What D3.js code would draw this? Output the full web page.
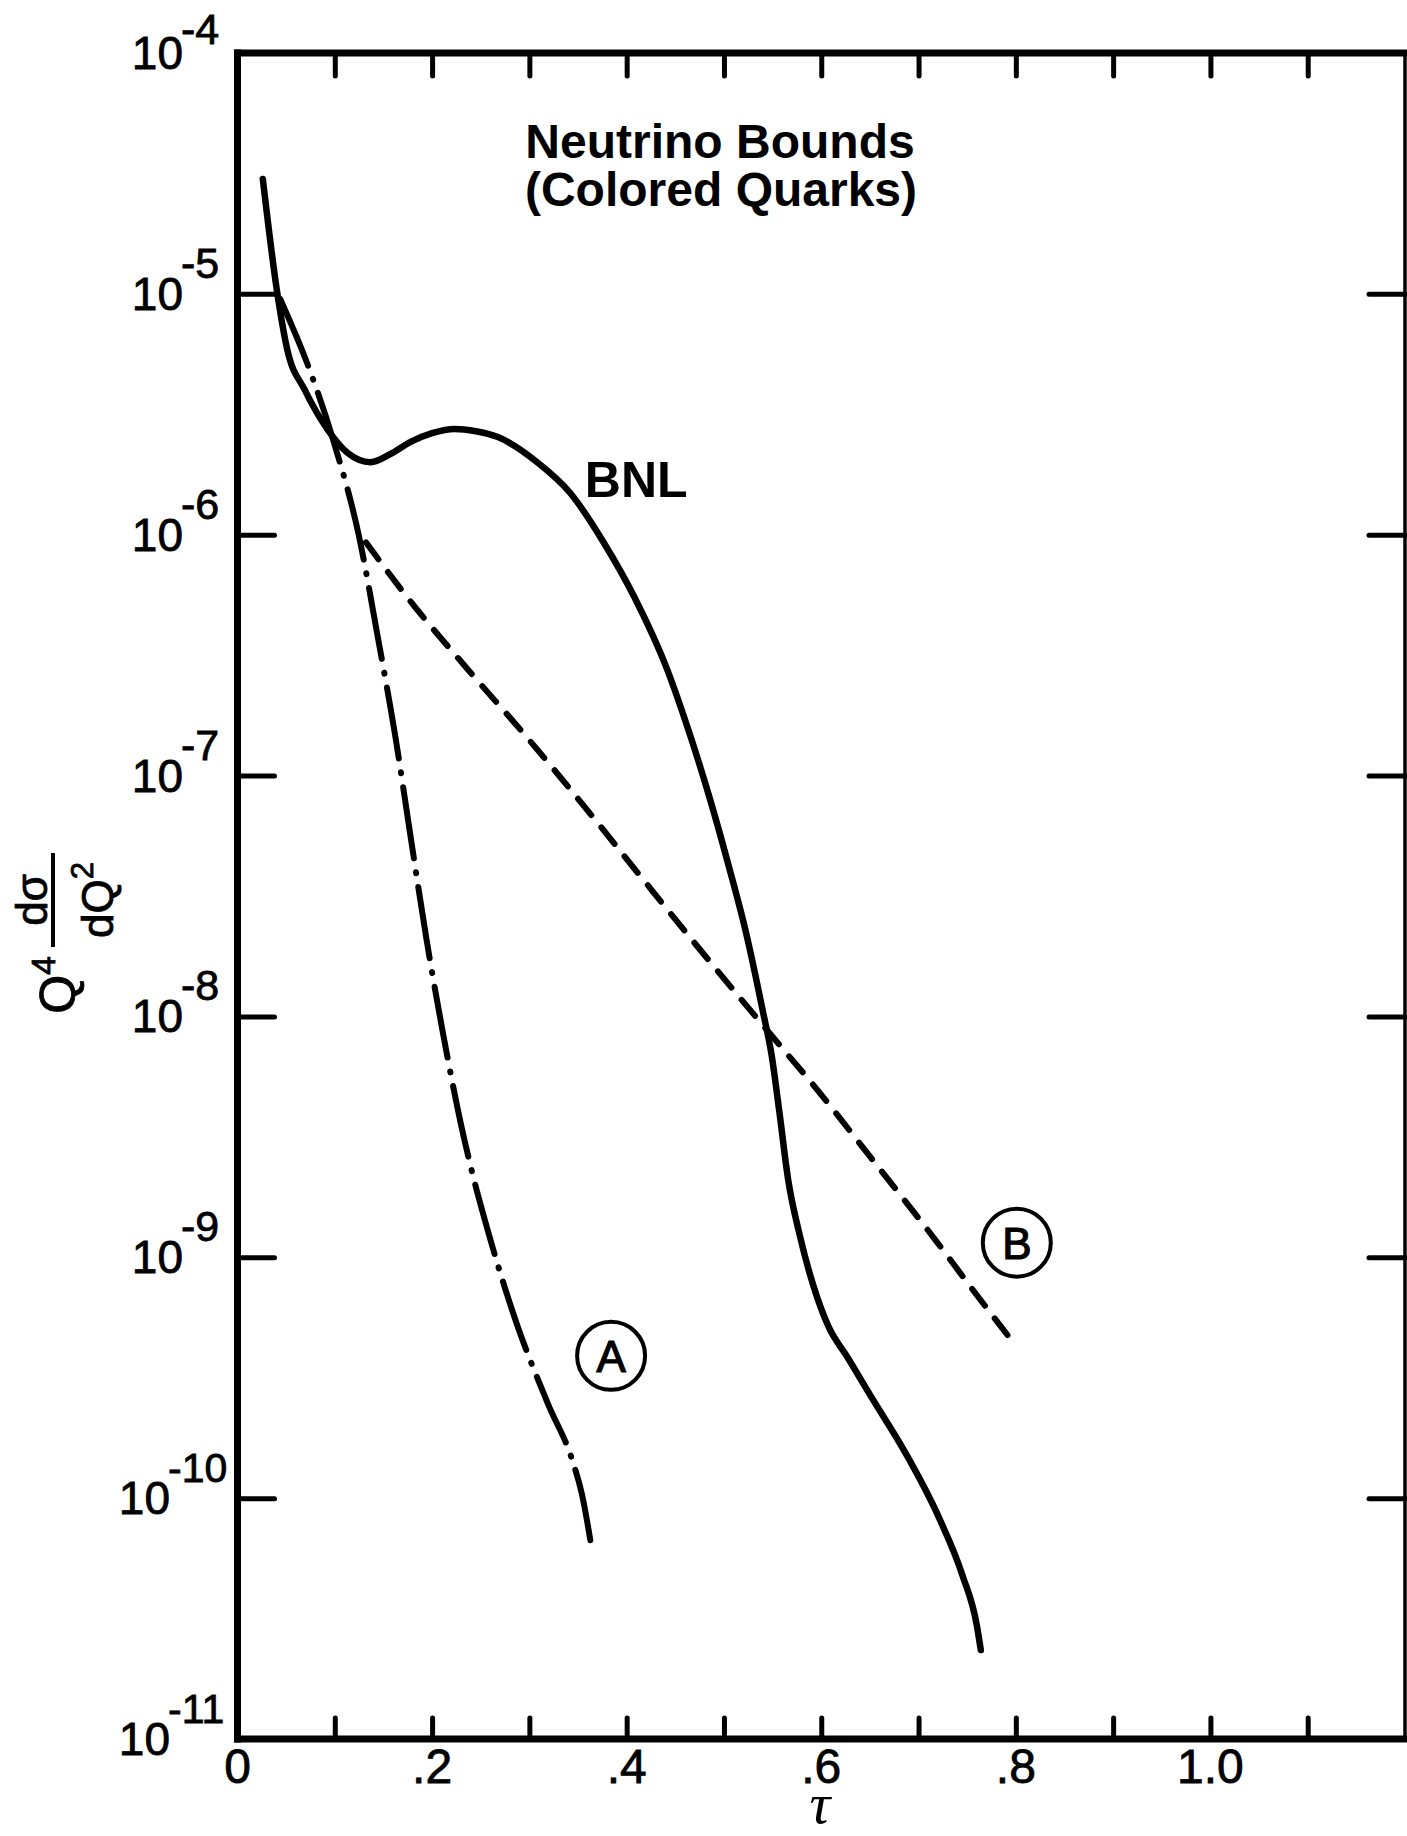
<!DOCTYPE html>
<html>
<head>
<meta charset="utf-8">
<script src="https://cdn.jsdelivr.net/npm/d3@7"></script>
<style>
  body { margin: 0; background: #fff; }
  svg { display: block; font-family: "Liberation Sans", Arial, sans-serif; }
</style>
</head>
<body>
<svg width="1407" height="1836"></svg>
<script>
// values: tau and Q^4 dsigma/dQ^2
const bnlTau = [0.026, 0.041, 0.051, 0.069, 0.093, 0.113, 0.137, 0.157, 0.178, 0.200, 0.223, 0.245,
                0.267, 0.308, 0.342, 0.377, 0.408, 0.441, 0.465, 0.486, 0.505, 0.523, 0.540, 0.549,
                0.557, 0.566, 0.578, 0.592, 0.608, 0.626, 0.653, 0.685, 0.721, 0.745, 0.760, 0.764];
const bnlVal = [3.0e-5, 1.0e-5, 5.9e-6, 4.0e-6, 2.72e-6, 2.19e-6, 2.0e-6, 2.16e-6, 2.43e-6, 2.64e-6, 2.75e-6, 2.69e-6,
                2.55e-6, 2.0e-6, 1.49e-6, 9.2e-7, 5.5e-7, 2.8e-7, 1.48e-7, 7.9e-8, 4.2e-8, 2.2e-8, 1.05e-8, 6.9e-9,
                4.0e-9, 2.1e-9, 1.23e-9, 7.6e-10, 5.1e-10, 3.9e-10, 2.57e-10, 1.58e-10, 8.3e-11, 4.8e-11, 2.95e-11, 2.34e-11];

// curve A (dash-dot)
const aTau = [0.044, 0.072, 0.098, 0.125, 0.144, 0.163, 0.177, 0.194, 0.211, 0.233, 0.259, 0.287, 0.319, 0.345, 0.354, 0.364];
const aVal = [9.5e-6, 5.1e-6, 2.5e-6, 9.8e-7, 3.8e-7, 1.39e-7, 5.9e-8, 2.12e-8, 8.6e-9, 3.1e-9, 1.22e-9, 5.3e-10, 2.47e-10, 1.40e-10, 1.04e-10, 6.2e-11];

// curve B (dashed)
const bTau = [0.132, 0.176, 0.237, 0.297, 0.357, 0.417, 0.477, 0.545, 0.597, 0.646, 0.718, 0.755, 0.796];
const bVal = [9.3e-7, 5.4e-7, 2.75e-7, 1.45e-7, 7.4e-8, 3.7e-8, 1.86e-8, 8.7e-9, 4.9e-9, 2.75e-9, 1.17e-9, 7.4e-10, 4.5e-10];

// axes
const xLabelValues = [0, 0.2, 0.4, 0.6, 0.8, 1.0];
const xTickLabels = ["0", ".2", ".4", ".6", ".8", "1.0"];
const xTickValues = [0.1, 0.2, 0.3, 0.4, 0.5, 0.6, 0.7, 0.8, 0.9, 1.0, 1.1];
const yTickValues = [1e-4, 1e-5, 1e-6, 1e-7, 1e-8, 1e-9, 1e-10, 1e-11];
const yTickExponents = ["-4", "-5", "-6", "-7", "-8", "-9", "-10", "-11"];

// curve labels
const circleNames = ["A", "B"];
const circleTau = [0.384, 0.801];
const circleVal = [3.9e-10, 1.15e-9];

const svg = d3.select("svg");

const plotLeft = 237.5, plotRight = 1405, plotTop = 53, plotBottom = 1739;
const x = d3.scaleLinear().domain([0, 1.2]).range([plotLeft, plotRight]);
const y = d3.scaleLog().domain([1e-11, 1e-4]).range([plotBottom, plotTop]);

// tick marks (labels drawn separately)
function ticks(g) {
    g.select(".domain").remove();
    g.selectAll(".tick line").attr("stroke", "#000").attr("stroke-width", 5).attr("stroke-linecap", "round");
}
svg.append("g").attr("transform", `translate(${plotLeft},0)`)
    .call(d3.axisRight(y).tickValues(yTickValues).tickSize(37).tickFormat(""))
    .call(ticks);
svg.append("g").attr("transform", `translate(${plotRight},0)`)
    .call(d3.axisLeft(y).tickValues(yTickValues).tickSize(36).tickFormat(""))
    .call(ticks);
svg.append("g").attr("transform", `translate(0,${plotTop})`)
    .call(d3.axisBottom(x).tickValues(xTickValues).tickSize(23).tickFormat(""))
    .call(ticks);
svg.append("g").attr("transform", `translate(0,${plotBottom})`)
    .call(d3.axisTop(x).tickValues(xTickValues).tickSize(21).tickFormat(""))
    .call(ticks);

// frame
const frame = svg.append("g").attr("stroke", "#000").attr("stroke-linecap", "square");
frame.append("line").attr("x1", plotLeft).attr("x2", plotLeft).attr("y1", plotTop).attr("y2", plotBottom).attr("stroke-width", 7);
frame.append("line").attr("x1", plotLeft).attr("x2", plotRight).attr("y1", plotTop).attr("y2", plotTop).attr("stroke-width", 7);
frame.append("line").attr("x1", plotLeft).attr("x2", plotRight).attr("y1", plotBottom).attr("y2", plotBottom).attr("stroke-width", 7);
frame.append("line").attr("x1", plotRight).attr("x2", plotRight).attr("y1", plotTop).attr("y2", plotBottom).attr("stroke-width", 3.5);

// y tick labels: 10 with exponent (two digit exponents sit further left)
const ylab = svg.append("g").attr("stroke", "#000").attr("stroke-width", 0.8)
    .selectAll("g").data(yTickValues).enter().append("g");
ylab.append("text")
    .attr("x", (d, i) => yTickExponents[i].length > 2 ? 170 : 183)
    .attr("y", d => y(d) + 16)
    .attr("text-anchor", "end")
    .style("font-size", "46px")
    .text("10");
ylab.append("text")
    .attr("x", (d, i) => yTickExponents[i].length > 2 ? 168 : 181)
    .attr("y", d => Math.max(y(d) - 16, 44))
    .style("font-size", (d, i) => yTickExponents[i].length > 2 ? "41px" : "43px")
    .text((d, i) => yTickExponents[i]);

// x tick labels
svg.append("g").attr("stroke", "#000").attr("stroke-width", 0.8)
    .selectAll("text").data(xLabelValues).enter().append("text")
    .attr("x", d => x(d)).attr("y", 1783)
    .attr("text-anchor", "middle")
    .style("font-size", "48px")
    .text((d, i) => xTickLabels[i]);

// x axis title
svg.append("text")
    .attr("x", 820).attr("y", 1823)
    .attr("text-anchor", "middle")
    .style("font-family", "'Liberation Serif', serif")
    .style("font-style", "italic")
    .style("font-size", "58px")
    .text("τ");

// y axis title, rotated
const yt = svg.append("g").attr("transform", "translate(53,900) rotate(-90)")
    .attr("stroke", "#000").attr("stroke-width", 0.8);
yt.append("line").attr("x1", -47).attr("x2", 47).attr("y1", 0).attr("y2", 0)
    .attr("stroke", "#000").attr("stroke-width", 4);
yt.append("text").attr("x", 0).attr("y", -6).attr("text-anchor", "middle")
    .style("font-size", "44px").text("dσ");
const den = yt.append("text").attr("x", 0).attr("y", 60).attr("text-anchor", "middle")
    .style("font-size", "44px").text("dQ");
den.append("tspan").attr("dy", -20).style("font-size", "31px").text("2");
const q4 = yt.append("text").attr("x", -56).attr("y", 22).attr("text-anchor", "end")
    .style("font-size", "50px").text("Q");
q4.append("tspan").attr("dy", -20).style("font-size", "34px").text("4");

// title
svg.append("text").attr("x", 720).attr("y", 158).attr("text-anchor", "middle")
    .style("font-size", "48px").style("font-weight", "bold").text("Neutrino Bounds");
svg.append("text").attr("x", 721).attr("y", 206).attr("text-anchor", "middle")
    .style("font-size", "48px").style("font-weight", "bold").text("(Colored Quarks)");

// curves
const line = d3.line()
    .x(d => x(d[0]))
    .y(d => y(d[1]))
    .curve(d3.curveMonotoneX);

svg.append("path")
    .datum(d3.zip(bnlTau, bnlVal))
    .attr("d", line)
    .attr("fill", "none").attr("stroke", "#000")
    .attr("stroke-width", 6.5).attr("stroke-linecap", "round");

svg.append("path")
    .datum(d3.zip(aTau, aVal))
    .attr("d", line)
    .attr("fill", "none").attr("stroke", "#000")
    .attr("stroke-width", 6).attr("stroke-linecap", "round")
    .attr("stroke-dasharray", "72 14 1 14");

svg.append("path")
    .datum(d3.zip(bTau, bVal))
    .attr("d", line)
    .attr("fill", "none").attr("stroke", "#000")
    .attr("stroke-width", 6).attr("stroke-linecap", "round")
    .attr("stroke-dasharray", "21 16");

svg.append("text").attr("x", x(0.357)).attr("y", y(1.44e-6))
    .style("font-size", "50px").style("font-weight", "bold").text("BNL");

// circled A and B
const circ = svg.append("g").selectAll("g").data(circleNames).enter().append("g")
    .attr("transform", (d, i) => `translate(${x(circleTau[i])},${y(circleVal[i])})`);
circ.append("circle").attr("r", 34).attr("fill", "none").attr("stroke", "#000").attr("stroke-width", 4);
circ.append("text").attr("text-anchor", "middle").attr("dy", "0.36em")
    .attr("stroke", "#000").attr("stroke-width", 1.2)
    .style("font-size", "44px").text(d => d);
</script>
</body>
</html>
